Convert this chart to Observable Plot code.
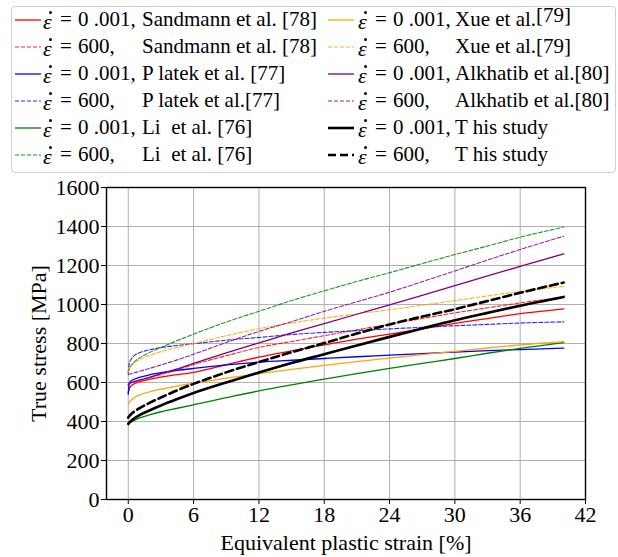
<!DOCTYPE html>
<html><head><meta charset="utf-8">
<script src="https://cdn.jsdelivr.net/npm/d3@7"></script>
<script src="https://cdn.jsdelivr.net/npm/@observablehq/plot@0.6"></script>
<style>
body{margin:0;background:#fff;font-family:"Liberation Serif","Times New Roman",serif;}
#wrap{position:relative;width:618px;height:557px;overflow:hidden;}
#legendbox{position:absolute;left:11px;top:6px;width:605px;height:167px;border:1px solid #d0d0d0;border-radius:4px;box-sizing:border-box;}
.t{position:absolute;font-family:"Liberation Serif","Times New Roman",serif;font-size:21px;line-height:24px;white-space:pre;color:#000;}
.sw{position:absolute;}
.dot{position:absolute;width:3px;height:3px;border-radius:50%;background:#000;}
#chart{position:absolute;left:0;top:178px;}
</style></head>
<body><div id="wrap"><div id="legendbox"></div><div id="chart"></div></div>
<script>
// ---- data ----
const strain = [0, 0.1, 0.3, 0.6, 1, 2, 3, 4.5, 6, 9, 12, 15, 18, 21, 24, 27, 30, 33, 36, 40];

const sandmann001 = [548, 570, 585, 595, 603, 617, 628, 640, 652, 691, 730, 762, 793, 822, 848, 875, 903, 928, 953, 978];
const sandmann600 = [588, 594, 599, 604, 610, 625, 641, 665, 692, 737, 780, 810, 840, 870, 899, 928, 957, 983, 1008, 1039];
const platek001   = [540, 598, 610, 618, 626, 640, 650, 662, 672, 690, 704, 714, 723, 732, 740, 748, 756, 763, 769, 776];
const platek600   = [648, 700, 722, 740, 752, 768, 779, 790, 799, 817, 831, 846, 857, 866, 875, 883, 891, 898, 905, 911];
const li001       = [383, 390, 398, 407, 417, 435, 450, 468, 486, 522, 557, 588, 617, 645, 672, 698, 723, 750, 775, 805];
const li600       = [650, 670, 690, 708, 725, 755, 780, 815, 848, 910, 965, 1020, 1070, 1118, 1163, 1210, 1256, 1300, 1345, 1397];
const xue001      = [487, 500, 512, 524, 535, 553, 566, 582, 596, 622, 645, 667, 688, 707, 725, 743, 760, 777, 793, 810];
const xue600      = [655, 670, 686, 702, 716, 740, 758, 780, 800, 840, 876, 905, 930, 952, 973, 996, 1020, 1044, 1067, 1093];
const alkhatib001 = [590, 596, 601, 606, 612, 628, 645, 670, 698, 752, 803, 854, 902, 950, 998, 1047, 1097, 1147, 1195, 1260];
const alkhatib600 = [640, 642, 646, 651, 657, 673, 690, 716, 745, 805, 862, 912, 965, 1014, 1063, 1117, 1172, 1228, 1282, 1350];
const study001    = [388, 395, 405, 418, 432, 458, 482, 515, 546, 600, 651, 700, 745, 790, 834, 877, 919, 957, 994, 1039];
const study600    = [420, 428, 440, 453, 467, 497, 523, 560, 593, 652, 705, 755, 802, 851, 898, 938, 976, 1018, 1060, 1113];

const xTicks = [0, 6, 12, 18, 24, 30, 36, 42];
const yTicks = [0, 200, 400, 600, 800, 1000, 1200, 1400, 1600];

const rateLabels = ["0 .001,", "600,"];
const sourceNames = [
  ["Sandmann et al. [78]", "Sandmann et al. [78]"],
  ["P latek et al. [77]", "P latek et al.[77]"],
  ["Li  et al. [76]", "Li  et al. [76]"],
  ["Xue et al.[79]", "Xue et al.[79]"],
  ["Alkhatib et al.[80]", "Alkhatib et al.[80]"],
  ["T his study", "T his study"]
];
const sourceColors = ["#ff0000", "#0000ff", "#008000", "#ffa500", "#800080", "#000000"];

// ---- series definitions ----
const series = [
  {src:0, rate:0, values:sandmann001},
  {src:0, rate:1, values:sandmann600},
  {src:1, rate:0, values:platek001},
  {src:1, rate:1, values:platek600},
  {src:2, rate:0, values:li001},
  {src:2, rate:1, values:li600},
  {src:3, rate:0, values:xue001},
  {src:3, rate:1, values:xue600},
  {src:4, rate:0, values:alkhatib001},
  {src:4, rate:1, values:alkhatib600},
  {src:5, rate:0, values:study001},
  {src:5, rate:1, values:study600}
];
function styleOf(s){
  const black = s.src === 5;
  return {
    stroke: sourceColors[s.src],
    strokeWidth: black ? 2.6 : (s.rate ? 1.1 : 1.3),
    strokeDasharray: s.rate ? (black ? "8,4" : "4,2") : null,
    strokeOpacity: (!black && s.rate) ? 0.85 : 1
  };
}

const lineMarks = series.map(s => {
  const data = strain.map((x, i) => ({x, y: s.values[i]}));
  const st = styleOf(s);
  return Plot.line(data, {x:"x", y:"y", curve:"monotone-x", stroke:st.stroke, strokeWidth:st.strokeWidth,
    strokeDasharray:st.strokeDasharray, strokeOpacity:st.strokeOpacity});
});

const serif = "Liberation Serif, Times New Roman, serif";
const chart = Plot.plot({
  width: 618, height: 379,
  marginTop: 9, marginBottom: 58, marginLeft: 106, marginRight: 33,
  x: {domain: [-2, 42]},
  y: {domain: [0, 1600]},
  style: {fontFamily: serif, fontSize: "21px", background: "white", color: "black", overflow: "visible"},
  marks: [
    Plot.gridX(xTicks, {stroke: "#b0b0b0", strokeOpacity: 1, strokeWidth: 1}),
    Plot.gridY(yTicks, {stroke: "#b0b0b0", strokeOpacity: 1, strokeWidth: 1}),
    ...lineMarks,
    Plot.frame({stroke: "black", strokeWidth: 1.4}),
    Plot.axisX(xTicks, {tickSize: 5, tickPadding: 2, tickFormat: d => String(d), label: "Equivalent plastic strain [%]", labelAnchor: "center", labelArrow: "none", labelOffset: 50, fontSize: 22, fontFamily: serif, fontVariant: "normal"}),
    Plot.axisY(yTicks, {tickSize: 5, tickPadding: 2, tickFormat: d => String(d), label: "True stress [MPa]", labelAnchor: "center", labelArrow: "none", labelOffset: 76, fontSize: 22, fontFamily: serif, fontVariant: "normal"})
  ]
});
document.getElementById("chart").appendChild(chart);

// ---- legend (HTML) ----
const wrap = document.getElementById("wrap");
const rowY = [20, 47, 74, 101, 128, 155];
const cols = [
  {sw:15, eps:43, eq:60, val:78, name:142},
  {sw:328, eps:358, eq:375, val:393, name:455}
];
series.forEach((s, k) => {
  const col = cols[s.src < 3 ? 0 : 1];
  const row = (s.src % 3) * 2 + s.rate;
  const y = rowY[row];
  const st = styleOf(s);
  const ns = "http://www.w3.org/2000/svg";
  const svg = document.createElementNS(ns, "svg");
  svg.setAttribute("class", "sw");
  svg.setAttribute("width", 26); svg.setAttribute("height", 8);
  svg.style.left = col.sw + "px"; svg.style.top = (y - 4) + "px";
  const ln = document.createElementNS(ns, "line");
  ln.setAttribute("x1", 0); ln.setAttribute("x2", 26); ln.setAttribute("y1", 4); ln.setAttribute("y2", 4);
  ln.setAttribute("stroke", st.stroke); ln.setAttribute("stroke-width", st.strokeWidth);
  ln.setAttribute("stroke-opacity", st.strokeOpacity);
  if (st.strokeDasharray) ln.setAttribute("stroke-dasharray", st.strokeDasharray);
  svg.appendChild(ln);
  wrap.appendChild(svg);
  const add = (txt, x, extra) => {
    const d = document.createElement("div");
    d.className = "t"; d.textContent = txt;
    d.style.left = x + "px"; d.style.top = (y - 13 + (extra || 0)) + "px";
    wrap.appendChild(d); return d;
  };
  const e = add("ε", col.eps, 3); e.style.fontStyle = "italic"; e.style.fontSize = "22px";
  const dot = document.createElement("div");
  dot.className = "dot";
  dot.style.left = (col.eps + 6) + "px"; dot.style.top = (y - 9) + "px";
  wrap.appendChild(dot);
  add("=", col.eq, 0);
  add(rateLabels[s.rate], col.val, 0);
  const nm = sourceNames[s.src][s.rate];
  if (s.src === 3 && s.rate === 0) {
    const base = nm.replace("[79]", "");
    const d = add(base, col.name, 0);
    const sup = document.createElement("span");
    sup.textContent = "[79]"; sup.style.position = "relative"; sup.style.top = "-4px";
    d.appendChild(sup);
  } else {
    add(nm, col.name, 0);
  }
});
</script>
</body></html>
